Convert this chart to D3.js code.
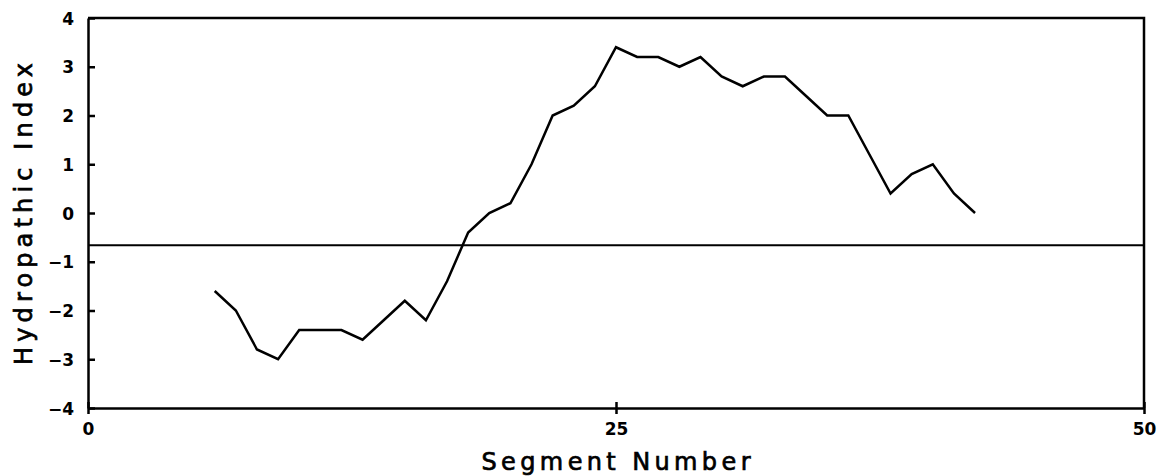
<!DOCTYPE html>
<html>
<head>
<meta charset="utf-8">
<script src="https://cdn.jsdelivr.net/npm/d3@7"></script>
<style>
  body { margin: 0; background: #fff; }
  svg { display: block; }
  .tick text { font-family: "DejaVu Sans", sans-serif; font-weight: bold; font-size: 17px; fill: #000; }
  .label { font-family: "DejaVu Sans", sans-serif; font-size: 24px; fill: #000; stroke: #000; stroke-width: 0.7px; }
</style>
</head>
<body>
<svg></svg>
<script>
// segment numbers and hydropathic index values
var segments = d3.range(6, 43);
var hydropathy = [
    -1.6, -2.0, -2.8, -3.0, -2.4, -2.4, -2.4, -2.6, -2.2, -1.8,
    -2.2, -1.4, -0.4, 0.0, 0.2, 1.0, 2.0, 2.2, 2.6, 3.4,
    3.2, 3.2, 3.0, 3.2, 2.8, 2.6, 2.8, 2.8, 2.4, 2.0,
    2.0, 1.2, 0.4, 0.8, 1.0, 0.4, 0.0
];
var threshold = -0.66;
var xTicks = [0, 25, 50];
var yTicks = [-4, -3, -2, -1, 0, 1, 2, 3, 4];

var width = 1159;
var height = 476;
var margin = {left: 88, right: 15, top: 18, bottom: 68};

var svg = d3.select('svg')
    .attr('width', width)
    .attr('height', height);

var xScale = d3.scaleLinear()
    .domain([0, 50])
    .range([margin.left, width - margin.right]);

var yScale = d3.scaleLinear()
    .domain([-4, 4])
    .range([height - margin.bottom, margin.top]);

var data = segments.map((s, i) => ({seg: s, value: hydropathy[i]}));

var minus = s => s.replace('-', '\u2212');

// frame: top and right edges
svg.append('path')
    .attr('d', 'M' + xScale(0) + ',' + yScale(4) + 'H' + xScale(50) + 'V' + yScale(-4))
    .attr('fill', 'none')
    .attr('stroke', '#000')
    .attr('stroke-width', 2.5);

var xAxis = d3.axisBottom(xScale)
    .tickValues(xTicks)
    .tickSizeInner(6)
    .tickSizeOuter(0)
    .tickPadding(6);

var gx = svg.append('g')
    .attr('transform', 'translate(0,' + yScale(-4) + ')')
    .call(xAxis);
gx.selectAll('.tick line').attr('y1', -6);

var yAxis = d3.axisLeft(yScale)
    .tickValues(yTicks)
    .tickFormat(d => minus(d3.format('d')(d)))
    .tickSizeInner(7)
    .tickSizeOuter(0)
    .tickPadding(7);

var gy = svg.append('g')
    .attr('transform', 'translate(' + xScale(0) + ',0)')
    .call(yAxis);
gy.selectAll('.tick line').attr('x2', 7);

svg.selectAll('.domain, .tick line')
    .attr('stroke', '#000')
    .attr('stroke-width', 2.5);
gx.selectAll('.tick text').attr('dy', '0.9em');
gy.selectAll('.tick text').attr('dy', '0.36em');

// reference line
svg.append('line')
    .attr('x1', xScale(0))
    .attr('x2', xScale(50))
    .attr('y1', yScale(threshold))
    .attr('y2', yScale(threshold))
    .attr('stroke', '#000')
    .attr('stroke-width', 2);

var line = d3.line()
    .x(d => xScale(d.seg))
    .y(d => yScale(d.value));

svg.append('path')
    .datum(data)
    .attr('d', line)
    .attr('fill', 'none')
    .attr('stroke', '#000')
    .attr('stroke-width', 2.5)
    .attr('stroke-linejoin', 'miter');

svg.append('text')
    .classed('label', true)
    .attr('x', xScale(25))
    .attr('y', 470)
    .attr('text-anchor', 'middle')
    .attr('textLength', 269)
    .attr('lengthAdjust', 'spacing')
    .text('Segment Number');

svg.append('text')
    .classed('label', true)
    .attr('transform', 'translate(32,' + 214 + ') rotate(-90)')
    .attr('text-anchor', 'middle')
    .attr('textLength', 302)
    .attr('lengthAdjust', 'spacing')
    .text('Hydropathic Index');
</script>
</body>
</html>
